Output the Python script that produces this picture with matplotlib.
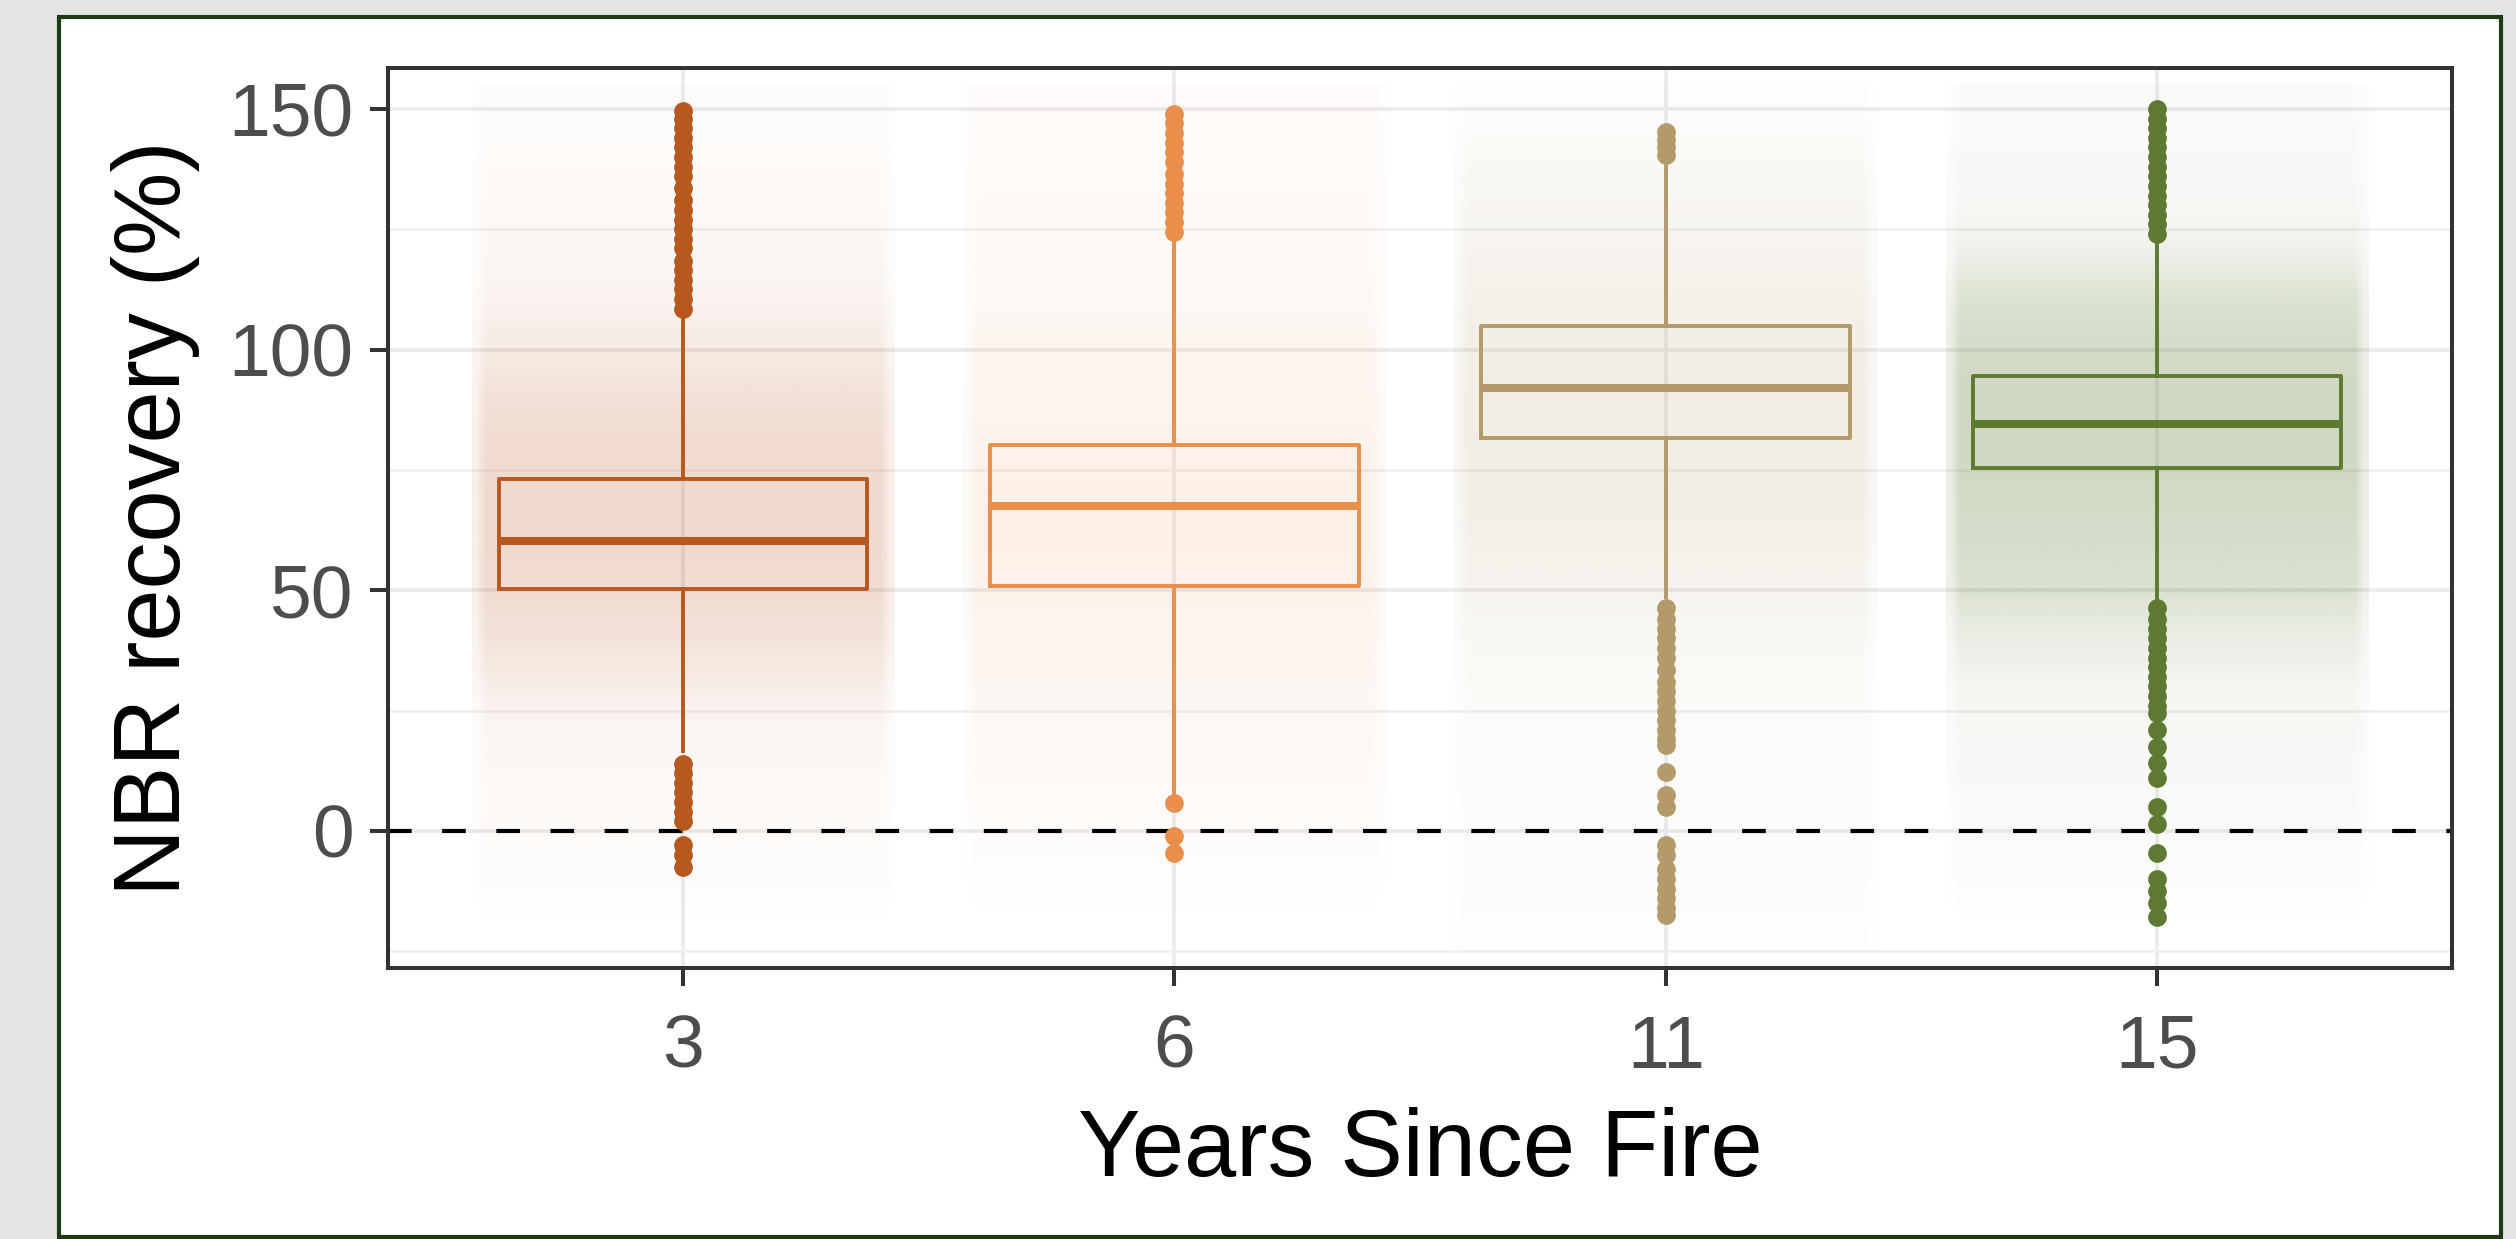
import matplotlib
matplotlib.use("Agg")
import matplotlib.pyplot as plt
import numpy as np
from matplotlib.patches import Rectangle
from matplotlib.colors import to_rgb

plt.rcParams['font.family'] = ['Liberation Sans', 'DejaVu Sans']

# ---------------- data ----------------
years = ["3", "6", "11", "15"]
colors = ["#B7581F", "#E98F4B", "#B39A6A", "#5E7A32"]

q1 = [50.2, 50.9, 81.7, 75.3]
median = [60.3, 67.5, 92.1, 84.6]
q3 = [73.0, 80.1, 104.9, 94.5]
whisker_low = [16.5, 7.0, 48.5, 48.0]
whisker_high = [107.0, 123.0, 139.5, 122.0]

outliers_3 = [108.5, 110.5, 112.5, 114.5, 116.5, 118.5, 121, 123, 125, 127, 129,
              131, 133.5, 136, 138, 140, 142, 144, 146, 148, 149.5,
              13.8, 12, 10, 8, 6, 4, 2, -3, -5, -7.5]
outliers_6 = [124.5, 126.5, 128.5, 130.5, 132.5, 134.5, 136.5, 139, 141, 143,
              145, 147, 149, 5.8, -1, -4.6]
outliers_11 = [140.5, 142, 143.5, 145.3,
               46.2, 44, 42, 40, 38, 36, 33.5, 31, 29, 27, 25, 23, 21, 19, 17.8,
               12.2, 7.5, 5, -2.9, -5, -8, -10, -12, -14, -16, -17.4]
outliers_15 = [124, 126, 128, 130, 132, 134, 136, 138, 140, 142, 144, 146, 148, 150,
               46.2, 44, 42, 40, 38, 36, 34, 32, 30, 28, 26, 24.5, 21, 17.4, 14, 11,
               5, 1.5, -4.6, -10, -12.5, -15, -18]
outliers = [outliers_3, outliers_6, outliers_11, outliers_15]

# density of the jittered raw-point cloud (visual opacity) read at these levels
cloud_levels = [-20, -10, 0, 10, 20, 30, 40, 50, 60, 70, 80, 90, 100, 110, 120, 130, 140, 150]
cloud_3 = [0.0, 0.02, 0.03, 0.04, 0.05, 0.10, 0.17, 0.21, 0.22, 0.22, 0.21, 0.18, 0.12, 0.07, 0.05, 0.04, 0.03, 0.02]
cloud_6 = [0.0, 0.01, 0.03, 0.05, 0.06, 0.07, 0.09, 0.11, 0.12, 0.12, 0.11, 0.09, 0.08, 0.06, 0.05, 0.05, 0.04, 0.03]
cloud_11 = [0.02, 0.03, 0.03, 0.04, 0.04, 0.05, 0.07, 0.11, 0.14, 0.16, 0.17, 0.17, 0.16, 0.14, 0.11, 0.09, 0.06, 0.02]
cloud_15 = [0.0, 0.02, 0.03, 0.04, 0.05, 0.07, 0.13, 0.22, 0.26, 0.28, 0.29, 0.29, 0.27, 0.22, 0.11, 0.05, 0.04, 0.03]
clouds = [cloud_3, cloud_6, cloud_11, cloud_15]

# ---------------- figure ----------------
W, H = 2516, 1239
fig = plt.figure(figsize=(W / 100, H / 100), dpi=100)
fig.patch.set_facecolor("#E5E5E5")
fig.patches.append(Rectangle((59 / W, 2 / H), (2501 - 59) / W, (1237 - 17) / H,
                             transform=fig.transFigure, facecolor="white",
                             edgecolor="#1E3B15", lw=3.0, zorder=0))

ax = fig.add_axes([388 / W, 1 - 968 / H, (2452 - 388) / W, (968 - 68) / H])
ax.set_facecolor("white")
ax.set_zorder(1)

positions = np.arange(1, len(years) + 1)

# grid
ax.set_yticks([0, 50, 100, 150])
ax.set_yticks([-25, 25, 75, 125], minor=True)
ax.set_xticks(positions)
ax.set_xticklabels(years)
ax.grid(True, which="major", color="#EBEBEB", lw=2.6, zorder=0)
ax.grid(True, which="minor", axis="y", color="#EFEFEF", lw=1.8, zorder=0)
ax.set_axisbelow(True)

# point cloud
col_profile = np.ones(45)
col_profile[0] = col_profile[-1] = 0.45
lv = np.array(cloud_levels)
step = lv[1] - lv[0]
for pos, c, dens in zip(positions, colors, clouds):
    rgb = to_rgb(c)
    a = np.array(dens)[:, None] * col_profile[None, :]
    img = np.zeros((len(lv), len(col_profile), 4))
    img[..., 0], img[..., 1], img[..., 2] = rgb
    img[..., 3] = a
    ax.imshow(img, extent=(pos - 0.43, pos + 0.43, lv[0] - step / 2, lv[-1] + step / 2),
              origin="lower", interpolation="bilinear", aspect="auto", zorder=1)

# zero line
ax.axhline(0, color="black", lw=3.0, ls=(0, (17 / 3.0, 22 / 3.0)), zorder=2)

# boxes
for i, pos in enumerate(positions):
    c = colors[i]
    st = [dict(med=median[i], q1=q1[i], q3=q3[i], whislo=whisker_low[i],
               whishi=whisker_high[i], fliers=outliers[i])]
    ax.bxp(st, positions=[pos], widths=0.75, showcaps=False, showfliers=True,
           boxprops=dict(color=c, lw=2.8),
           whiskerprops=dict(color=c, lw=2.8),
           medianprops=dict(color=c, lw=5.8),
           flierprops=dict(marker="o", markersize=13.5, markerfacecolor=c,
                           markeredgecolor=c, markeredgewidth=0),
           zorder=3)

ax.set_xlim(0.4, 4.6)
ax.set_ylim(-28.5, 158.5)
ax.set_xticks(positions)
ax.set_xticklabels(years)

for s in ax.spines.values():
    s.set_color("#333333")
    s.set_linewidth(2.9)

ax.tick_params(axis="both", which="major", length=13, width=2.9, color="#333333",
               labelsize=54, labelcolor="#4D4D4D")
ax.tick_params(axis="x", pad=20)
ax.tick_params(axis="y", pad=12)
ax.tick_params(which="minor", length=0)

ax.set_xlabel("Years Since Fire", fontsize=67.5, color="black", va="baseline")
ax.xaxis.set_label_coords(0.5, (968 - 1176) / 900)
ax.set_ylabel("NBR recovery (%)", fontsize=67.5, color="black", va="center")
ax.yaxis.set_label_coords((156 - 388) / 2064, 0.5)

fig.savefig("out.png", dpi=100, facecolor=fig.get_facecolor())
